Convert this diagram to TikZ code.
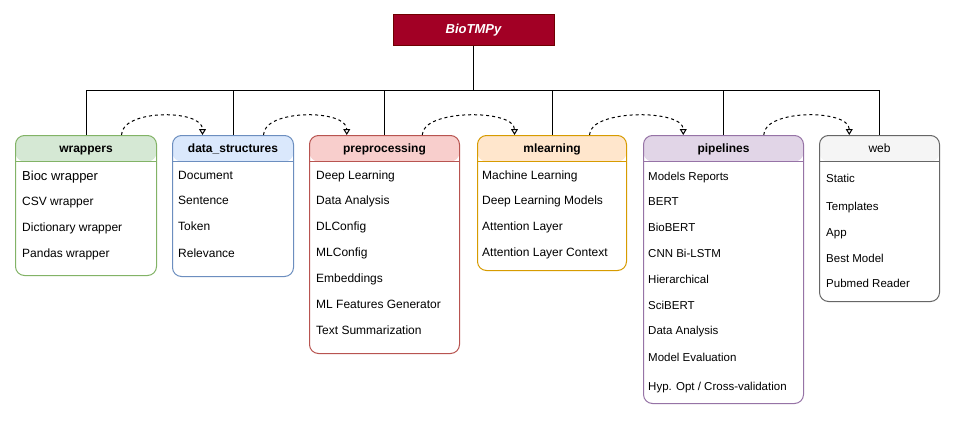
\documentclass[tikz,border=0pt]{standalone}
\usepackage{fontspec}
\setmainfont{Liberation Sans}
\usetikzlibrary{arrows.meta,calc}

\definecolor{rootfill}{HTML}{A20025}
\definecolor{rootline}{HTML}{6F0000}
\definecolor{wrapfill}{HTML}{D5E8D4}
\definecolor{wrapline}{HTML}{82B366}
\definecolor{dsfill}{HTML}{DAE8FC}
\definecolor{dsline}{HTML}{6C8EBF}
\definecolor{ppfill}{HTML}{F8CECC}
\definecolor{ppline}{HTML}{B85450}
\definecolor{mlfill}{HTML}{FFE6CC}
\definecolor{mlline}{HTML}{D79B00}
\definecolor{pipfill}{HTML}{E1D5E7}
\definecolor{pipline}{HTML}{9673A6}
\definecolor{webfill}{HTML}{F5F5F5}
\definecolor{webline}{HTML}{666666}

\tikzset{
	module/.style 2 args={draw=#2, fill=white, line width=1pt, rounded corners=9pt,
		anchor=north west, inner sep=0pt,
		path picture={
			\fill[#1] (path picture bounding box.north west) rectangle ([yshift=-26pt]path picture bounding box.north east);
			\draw[#2, line width=1pt] ([yshift=-26pt]path picture bounding box.north west) -- ([yshift=-26pt]path picture bounding box.north east);
		}},
	title/.style={font=\fontsize{12}{14}\selectfont\bfseries, text height=8.6pt, text depth=0pt, inner sep=0pt},
	item/.style={font=\fontsize{12}{14}\selectfont, anchor=west, text height=8.6pt, text depth=0pt, inner sep=0pt},
	tree/.style={line width=1pt},
	dep/.style={line width=1pt, dash pattern=on 3pt off 3pt, -{Triangle[open,width=7pt,length=6pt]}},
}

\begin{document}
\begin{tikzpicture}[x=1pt,y=-1pt]
		\fill[white] (0,0) rectangle (955,420);
		% root
		\node[fill=rootfill, draw=rootline, line width=1pt, minimum width=161pt, minimum height=31pt, inner sep=0pt,
			text=white, font=\fontsize{13}{15}\selectfont\bfseries\itshape] (root) at (473.5,30.5) {BioTMPy};
		% modules
		\node[module={wrapfill}{wrapline}, minimum width=141pt, minimum height=140pt] (wrappers) at (15,135) {};
		\node[module={dsfill}{dsline}, minimum width=121pt, minimum height=141pt] (ds) at (172,135) {};
		\node[module={ppfill}{ppline}, minimum width=150pt, minimum height=218pt] (pp) at (309,135) {};
		\node[module={mlfill}{mlline}, minimum width=149pt, minimum height=135pt] (ml) at (477,135) {};
		\node[module={pipfill}{pipline}, minimum width=160pt, minimum height=268pt] (pip) at (643,135) {};
		\node[module={webfill}{webline}, minimum width=120pt, minimum height=166pt] (web) at (819,135) {};
		\node[title] (wrappers-t) at ($(wrappers.north)+(0,13)$) {wrappers};
		\node[title] (ds-t) at ($(ds.north)+(0,13)$) {data\_structures};
		\node[title] (pp-t) at ($(pp.north)+(0,13)$) {preprocessing};
		\node[title] (ml-t) at ($(ml.north)+(0,13)$) {mlearning};
		\node[title] (pip-t) at ($(pip.north)+(0,13)$) {pipelines};
		\node[title, font=\fontsize{12}{14}\selectfont] (web-t) at ($(web.north)+(0,13)$) {web};
		% items
		\node[item, font=\fontsize{13}{15}\selectfont] (wr1) at (22,176) {Bioc wrapper};
		\node[item] (wr2) at (22,201) {CSV wrapper};
		\node[item] (wr3) at (22,227) {Dictionary wrapper};
		\node[item] (wr4) at (22,253) {Pandas wrapper};
		\foreach \t/\y [count=\i] in {Document/175, Sentence/200, Token/226.5, Relevance/253}
			\node[item] (ds\i) at (178,\y) {\t};
		\foreach \t/\y [count=\i] in {Deep Learning/175, Data Analysis/200.5, DLConfig/226.5, MLConfig/252.5,
				Embeddings/278.5, ML Features Generator/304.5, Text Summarization/330.5}
			\node[item] (pp\i) at (316,\y) {\t};
		\foreach \t/\y [count=\i] in {Machine Learning/175, Deep Learning Models/200.5, Attention Layer/226.5,
				Attention Layer Context/252.5}
			\node[item] (ml\i) at (482,\y) {\t};
		\foreach \t/\y [count=\i] in {Models Reports/176, BERT/201, BioBERT/227, CNN Bi-LSTM/253, Hierarchical/279,
				SciBERT/305, Data Analysis/330.5, Model Evaluation/357, {Hyp. Opt / Cross-validation}/386}
			\node[item, font=\fontsize{11.5}{14}\selectfont] (pip\i) at (648,\y) {\t};
		\foreach \t/\y [count=\i] in {Static/178, Templates/206, App/232, Best Model/258, Pubmed Reader/283}
			\node[item, font=\fontsize{11.5}{14}\selectfont] (web\i) at (826,\y) {\t};
		% tree
		\coordinate (bus) at (473.5,90);
		\draw[tree] (root.south) -- (bus);
		\draw[tree] (wrappers.north) -- (wrappers.north |- bus) -- (web.north |- bus) -- (web.north);
		\foreach \m in {ds,pp,ml,pip}
			\draw[tree] (\m.north) -- (\m.north |- bus);
		% dependencies
		\foreach \a/\b in {wrappers/ds, ds/pp, pp/ml, ml/pip, pip/web}
			\draw[dep] ($(\a.north west)!.75!(\a.north east)$) .. controls +(0,-26) and +(0,-26) .. ($(\b.north west)!.25!(\b.north east)$);
	\end{tikzpicture}
\end{document}
